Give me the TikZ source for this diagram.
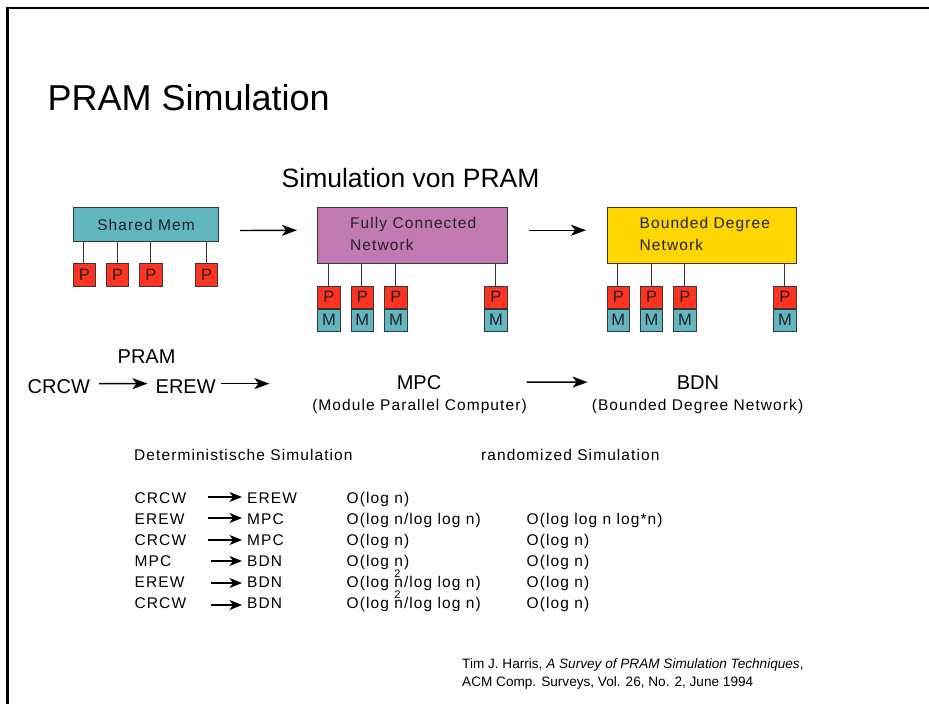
\documentclass[tikz,border=0pt]{standalone}
\usepackage{fontspec}
\setmainfont{Liberation Sans}
\newfontfamily\spacedfont[LetterSpace=7]{Liberation Sans}
\usetikzlibrary{arrows.meta}
\definecolor{tealbox}{RGB}{98,182,192}
\definecolor{redbox}{RGB}{255,51,34}
\definecolor{purplebox}{RGB}{194,122,180}
\definecolor{goldbox}{RGB}{255,214,0}
\definecolor{edgegray}{RGB}{55,55,55}
\definecolor{labelgray}{RGB}{35,35,35}
\begin{document}
\begin{tikzpicture}[x=1pt,y=-1pt,
  bigbox/.style={draw=edgegray,line width=1pt,anchor=north west,inner sep=0},
  pbox/.style={draw=edgegray,line width=0.8pt,fill=redbox,minimum width=22.4pt,minimum height=22.2pt,inner sep=0,anchor=north west,font=\fontsize{16.5}{16.5}\selectfont,text=labelgray},
  mbox/.style={pbox,fill=tealbox},
  link/.style={draw=edgegray,line width=1.1pt},
  arr/.style={line width=1.4pt,-{Stealth[length=15pt,width=11pt,inset=4pt]}},
  tarr/.style={line width=1.2pt,-{Stealth[length=12.5pt,width=10pt,inset=3.5pt]}},
  lbl/.style={anchor=base west,inner sep=0,font=\spacedfont\fontsize{15.5}{22}\selectfont},
  boxlbl/.style={lbl,anchor=north west,align=left,text=labelgray},
  big/.style={anchor=base west,inner sep=0,font=\fontsize{20}{24}\selectfont},
  cite/.style={anchor=base west,inner sep=0,font=\fontsize{13.6}{18}\selectfont}
]
\useasboundingbox (0,0) rectangle (929,704);
% frame
\draw[line width=2.7pt] (7.2,704) -- (7.2,8) -- (929,8);

% titles
\node[anchor=base west,inner sep=0,font=\fontsize{36}{40}\selectfont] (title) at (47.5,110) {PRAM Simulation};
\node[anchor=base west,inner sep=0,font=\fontsize{26.5}{30}\selectfont] (subtitle) at (281.5,187.5) {Simulation von PRAM};

% Shared memory block
\node[bigbox,fill=tealbox,minimum width=145pt,minimum height=34pt,font=\spacedfont\fontsize{15.5}{18}\selectfont,text=labelgray] (sm) at (73,207) {Shared Mem};
\foreach \x [count=\i] in {72.7,106,139.3,195} {
  \draw[link] (\x+11.2,262.7) coordinate (spt\i) -- (spt\i |- sm.south);
  \node[pbox,minimum height=23.3pt] (sp\i) at (\x,262.7) {P};
}

% Fully connected network
\node[bigbox,fill=purplebox,minimum width=190pt,minimum height=55.5pt] (fcn) at (317,207) {};
\node[boxlbl] (fcnl) at (350,217.5) {Fully Connected\\Network};
\foreach \x [count=\i] in {317.3,350.7,384.3,484.3} {
  \draw[link] (\x+11.2,285.7) coordinate (fpt\i) -- (fpt\i |- fcn.south);
  \node[pbox] (fp\i) at (\x,285.7) {P};
  \node[mbox,anchor=north] (fm\i) at (fp\i.south) {M};
}

% Bounded degree network
\node[bigbox,fill=goldbox,minimum width=189pt,minimum height=55.5pt] (bdnbox) at (607,207) {};
\node[boxlbl] (bdnl) at (639.5,217.5) {Bounded Degree\\Network};
\foreach \x [count=\i] in {606.7,640,673.3,773.3} {
  \draw[link] (\x+11.2,285.7) coordinate (bpt\i) -- (bpt\i |- bdnbox.south);
  \node[pbox] (bp\i) at (\x,285.7) {P};
  \node[mbox,anchor=north] (bm\i) at (bp\i.south) {M};
}

\draw[arr] ([shift={(21,6)}]sm.east) -- ([shift={(-20,-5)}]fcn.west);
\draw[arr] ([shift={(21,-5)}]fcn.east) -- ([shift={(-21,-5)}]bdnbox.west);

% second row
\node[big] (pram) at (117.5,363.5) {PRAM};
\node[big] (crcw) at (27.5,393) {CRCW};
\node[big] (erew) at (155.5,393) {EREW};
\node[big,anchor=base] (mpc) at (419,389) {MPC};
\node[lbl,anchor=base] (mpcsub) at (419.5,410) {(Module Parallel Computer)};
\node[big,anchor=base] (bdn) at (698,389) {BDN};
\node[lbl,anchor=base] (bdnsub) at (697.5,410) {(Bounded Degree Network)};

\draw[arr] ([shift={(9,-2.5)}]crcw.east) -- ([shift={(-8,-2.5)}]erew.west);
\draw[arr] ([shift={(5,-2.5)}]erew.east) -- ++(48.5,0);
\draw[arr] (mpc.east -| mpcsub.east) -- ([xshift=-4pt]bdn.west -| bdnsub.west);

% table
\node[lbl] (det) at (134,460) {Deterministische Simulation};
\node[lbl] (rnd) at (481,460) {randomized Simulation};

\foreach \a/\b/\c/\d/\off/\xs [count=\i] in {
  CRCW/EREW/{O(log n)}/{}/6/208,
  EREW/MPC/{O(log n/log log n)}/{O(log log n log*n)}/6/208,
  CRCW/MPC/{O(log n)}/{O(log n)}/5/208,
  MPC/BDN/{O(log \rlap{\raisebox{-11pt}{\fontsize{11}{11}\selectfont 2}}n)}/{O(log n)}/5/211,
  EREW/BDN/{O(log \rlap{\raisebox{-11pt}{\fontsize{11}{11}\selectfont 2}}n/log log n)}/{O(log n)}/4/211,
  CRCW/BDN/{O(log n/log log n)}/{O(log n)}/3/211} {
  \pgfmathsetmacro{\yb}{503+21*(\i-1)}
  \node[lbl] (ta\i) at (134.5,\yb) {\a};
  \node[lbl] (tb\i) at (247,\yb) {\b};
  \node[lbl] (tc\i) at (346.5,\yb) {\c};
  \node[lbl] (td\i) at (526.5,\yb) {\d};
  \coordinate (ts\i) at (\xs,\yb-\off);
  \draw[tarr] (ts\i) -- ([xshift=-5pt]ts\i -| tb\i.west);
}

% citation
\node[cite] (cite1) at (462,668) {Tim J. Harris, {\itshape A Survey of PRAM Simulation Techniques\/},};
\node[cite] (cite2) at (462,686) {ACM Comp. Surveys, Vol. 26, No. 2, June 1994};
\end{tikzpicture}
\end{document}
